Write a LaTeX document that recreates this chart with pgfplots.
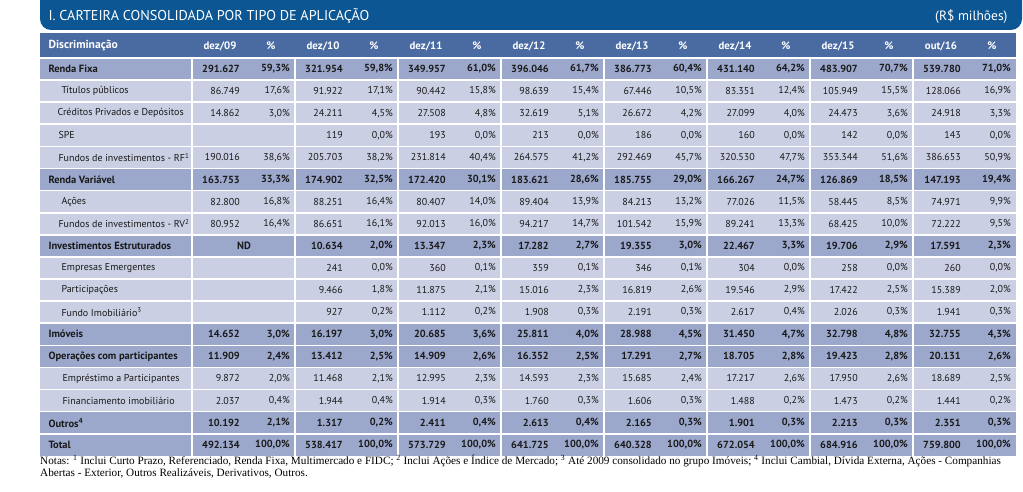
\documentclass[border=0pt]{standalone}
\usepackage{pgfplots}
\pgfplotsset{compat=1.18}
\usepackage{pgfplotstable}
\usepackage{fontspec}
\setmainfont{PT Sans}
\newfontfamily\notesfont{Liberation Serif}
\definecolor{banner}{HTML}{0B5693}
\definecolor{headc}{HTML}{4A6BA2}
\definecolor{mainc}{HTML}{9BA8CC}
\definecolor{subc}{HTML}{CACFE3}
\definecolor{txt}{HTML}{1A1A1A}

% rows: 0..17, bold rows in \maintab, others in \subtab; -1 = empty cell
\pgfplotstableread{
r  v1     p1    v2     p2    v3     p3    v4     p4    v5     p5    v6     p6    v7     p7    v8     p8
0  291627 59.3  321954 59.8  349957 61.0  396046 61.7  386773 60.4  431140 64.2  483907 70.7  539780 71.0
5  163753 33.3  174902 32.5  172420 30.1  183621 28.6  185755 29.0  166267 24.7  126869 18.5  147193 19.4
8  -1     -1    10634  2.0   13347  2.3   17282  2.7   19355  3.0   22467  3.3   19706  2.9   17591  2.3
12 14652  3.0   16197  3.0   20685  3.6   25811  4.0   28988  4.5   31450  4.7   32798  4.8   32755  4.3
13 11909  2.4   13412  2.5   14909  2.6   16352  2.5   17291  2.7   18705  2.8   19423  2.8   20131  2.6
16 10192  2.1   1317   0.2   2411   0.4   2613   0.4   2165   0.3   1901   0.3   2213   0.3   2351   0.3
17 492134 100.0 538417 100.0 573729 100.0 641725 100.0 640328 100.0 672054 100.0 684916 100.0 759800 100.0
}\maintab

\pgfplotstableread{
r  v1     p1    v2     p2    v3     p3    v4     p4    v5     p5    v6     p6    v7     p7    v8     p8
1  86749  17.6  91922  17.1  90442  15.8  98639  15.4  67446  10.5  83351  12.4  105949 15.5  128066 16.9
2  14862  3.0   24211  4.5   27508  4.8   32619  5.1   26672  4.2   27099  4.0   24473  3.6   24918  3.3
3  -1     -1    119    0.0   193    0.0   213    0.0   186    0.0   160    0.0   142    0.0   143    0.0
4  190016 38.6  205703 38.2  231814 40.4  264575 41.2  292469 45.7  320530 47.7  353344 51.6  386653 50.9
6  82800  16.8  88251  16.4  80407  14.0  89404  13.9  84213  13.2  77026  11.5  58445  8.5   74971  9.9
7  80952  16.4  86651  16.1  92013  16.0  94217  14.7  101542 15.9  89241  13.3  68425  10.0  72222  9.5
9  -1     -1    241    0.0   360    0.1   359    0.1   346    0.1   304    0.0   258    0.0   260    0.0
10 -1     -1    9466   1.8   11875  2.1   15016  2.3   16819  2.6   19546  2.9   17422  2.5   15389  2.0
11 -1     -1    927    0.2   1112   0.2   1908   0.3   2191   0.3   2617   0.4   2026   0.3   1941   0.3
14 9872   2.0   11468  2.1   12995  2.3   14593  2.3   15685  2.4   17217  2.6   17950  2.6   18689  2.5
15 2037   0.4   1944   0.4   1914   0.3   1760   0.3   1606   0.3   1488   0.2   1473   0.2   1441   0.2
}\subtab

\newcommand\ry[1]{58+22.1*(#1+0.5)}
\newcommand\rt[1]{58+22.1*(#1)}

\pgfkeys{/pgf/number format/assume math mode=true}

\pgfplotsset{
  valcol/.style={draw=none, point meta=explicit,
    nodes near coords={\pgfmathprintnumber[fixed,precision=0,1000 sep={.}]{\pgfplotspointmeta}},
    nodes near coords align={anchor=east},
    every node near coord/.append style={anchor=east, inner sep=0pt, text=txt, font=#1}},
  pctcol/.style={draw=none, point meta=explicit,
    nodes near coords={\pgfmathprintnumber[fixed,fixed zerofill,precision=1,use comma]{\pgfplotspointmeta}\%},
    nodes near coords align={anchor=east},
    every node near coord/.append style={anchor=east, inner sep=0pt, text=txt, font=#1}},
}

\begin{document}
\begin{tikzpicture}
\begin{axis}[
    x=1pt, y=1pt, y dir=reverse,
    xmin=0, xmax=1023, ymin=0, ymax=492,
    hide axis, clip=false,
]
\coordinate (tl) at (axis cs:0,0);
\coordinate (br) at (axis cs:1023,492);

% title banner
\fill[banner, rounded corners=11pt] (axis cs:40,-12) rectangle (axis cs:1022,30);
\node[anchor=west, text=white, font=\fontsize{14.2}{14.2}\selectfont] at (axis cs:45,16) {I. CARTEIRA CONSOLIDADA POR TIPO DE APLICAÇÃO};
\node[anchor=east, text=white, font=\fontsize{13.5}{13.5}\selectfont] at (axis cs:1011,17) {(R\$ milhões)};

% header row
\fill[headc] (axis cs:40,33) rectangle (axis cs:1016,58);
\node[anchor=west, text=white, font=\bfseries\fontsize{11.6}{11.6}\selectfont] at (axis cs:45,46) {Discriminação};
\pgfplotsinvokeforeach{0,...,7}{
  \node[text=white, font=\bfseries\fontsize{10.8}{10.8}\selectfont] at (axis cs:{192+103*#1+28},46) {\ifcase#1 dez/09\or dez/10\or dez/11\or dez/12\or dez/13\or dez/14\or dez/15\or out/16\fi};
  \node[text=white, font=\bfseries\fontsize{10.8}{10.8}\selectfont] at (axis cs:{192+103*#1+79},46) {\%};
}

% row backgrounds
\fill[subc] (axis cs:40,58) rectangle (axis cs:1016,{\rt{18}});
\pgfplotsinvokeforeach{0,5,8,12,13,16,17}{
  \fill[mainc] (axis cs:40,{\rt{#1}}) rectangle (axis cs:1016,{\rt{#1+1}});
}
\pgfplotsinvokeforeach{0,...,17}{
  \draw[white, line width=1.6pt] (axis cs:40,{\rt{#1}}) -- (axis cs:1016,{\rt{#1}});
}
\pgfplotsinvokeforeach{0,...,7}{
  \draw[white, line width=1.4pt] (axis cs:{192+103*#1},58) -- (axis cs:{192+103*#1},{\rt{18}});
}

% row labels
\begin{scope}[every node/.style={anchor=west, text=txt, font=\bfseries\fontsize{10.5}{10.5}\selectfont}]
\node at (axis cs:45,{\ry{0}}) {Renda Fixa};
\node at (axis cs:45,{\ry{5}}) {Renda Variável};
\node at (axis cs:45,{\ry{8}}) {Investimentos Estruturados};
\node at (axis cs:45,{\ry{12}}) {Imóveis};
\node at (axis cs:45,{\ry{13}}) {Operações com participantes};
\node at (axis cs:45,{\ry{16}}) {Outros\textsuperscript{4}};
\node at (axis cs:45,{\ry{17}}) {Total};
\node[anchor=center] at (axis cs:244,{\ry{8}}) {ND};
\end{scope}
\begin{scope}[every node/.style={anchor=west, text=txt, font=\fontsize{10}{10}\selectfont}]
\node at (axis cs:58,{\ry{1}}) {Títulos públicos};
\node at (axis cs:54,{\ry{2}}) {Créditos Privados e Depósitos};
\node at (axis cs:55,{\ry{3}}) {SPE};
\node at (axis cs:55,{\ry{4}}) {Fundos de investimentos - RF\textsuperscript{1}};
\node at (axis cs:58,{\ry{6}}) {Ações};
\node at (axis cs:55,{\ry{7}}) {Fundos de investimentos - RV\textsuperscript{2}};
\node at (axis cs:58,{\ry{9}}) {Empresas Emergentes};
\node at (axis cs:58,{\ry{10}}) {Participações};
\node at (axis cs:58,{\ry{11}}) {Fundo Imobiliário\textsuperscript{3}};
\node at (axis cs:59,{\ry{14}}) {Empréstimo a Participantes};
\node at (axis cs:59,{\ry{15}}) {Financiamento imobiliário};
\end{scope}

% values
\pgfplotsinvokeforeach{1,...,8}{
  \addplot[valcol={\bfseries\fontsize{10.3}{10.3}\selectfont}] table[x expr={192+103*(#1-1)+48}, y expr={\thisrow{v#1}<0 ? nan : 58+22.1*(\thisrow{r}+0.5)}, meta=v#1] {\maintab};
  \addplot[pctcol={\bfseries\fontsize{10.3}{10.3}\selectfont}] table[x expr={192+103*(#1-1)+98}, y expr={\thisrow{p#1}<0 ? nan : 58+22.1*(\thisrow{r}+0.5)}, meta=p#1] {\maintab};
  \addplot[valcol={\fontsize{10}{10}\selectfont}] table[x expr={192+103*(#1-1)+48}, y expr={\thisrow{v#1}<0 ? nan : 58+22.1*(\thisrow{r}+0.5)}, meta=v#1] {\subtab};
  \addplot[pctcol={\fontsize{10}{10}\selectfont}] table[x expr={192+103*(#1-1)+98}, y expr={\thisrow{p#1}<0 ? nan : 58+22.1*(\thisrow{r}+0.5)}, meta=p#1] {\subtab};
}

% notes
\node[anchor=base west, inner sep=0pt, text=black, font=\notesfont\fontsize{11.2}{11.2}\selectfont] at (axis cs:40,464) {Notas: \textsuperscript{1} Inclui Curto Prazo, Referenciado, Renda Fixa, Multimercado e FIDC; \textsuperscript{2} Inclui Ações e Índice de Mercado; \textsuperscript{3} Até 2009 consolidado no grupo Imóveis; \textsuperscript{4} Inclui Cambial, Dívida Externa, Ações - Companhias};
\node[anchor=base west, inner sep=0pt, text=black, font=\notesfont\fontsize{11.2}{11.2}\selectfont] at (axis cs:40,476) {Abertas - Exterior, Outros Realizáveis, Derivativos, Outros.};
\end{axis}
\pgfresetboundingbox
\path[use as bounding box] (tl) rectangle (br);
\end{tikzpicture}
\end{document}
